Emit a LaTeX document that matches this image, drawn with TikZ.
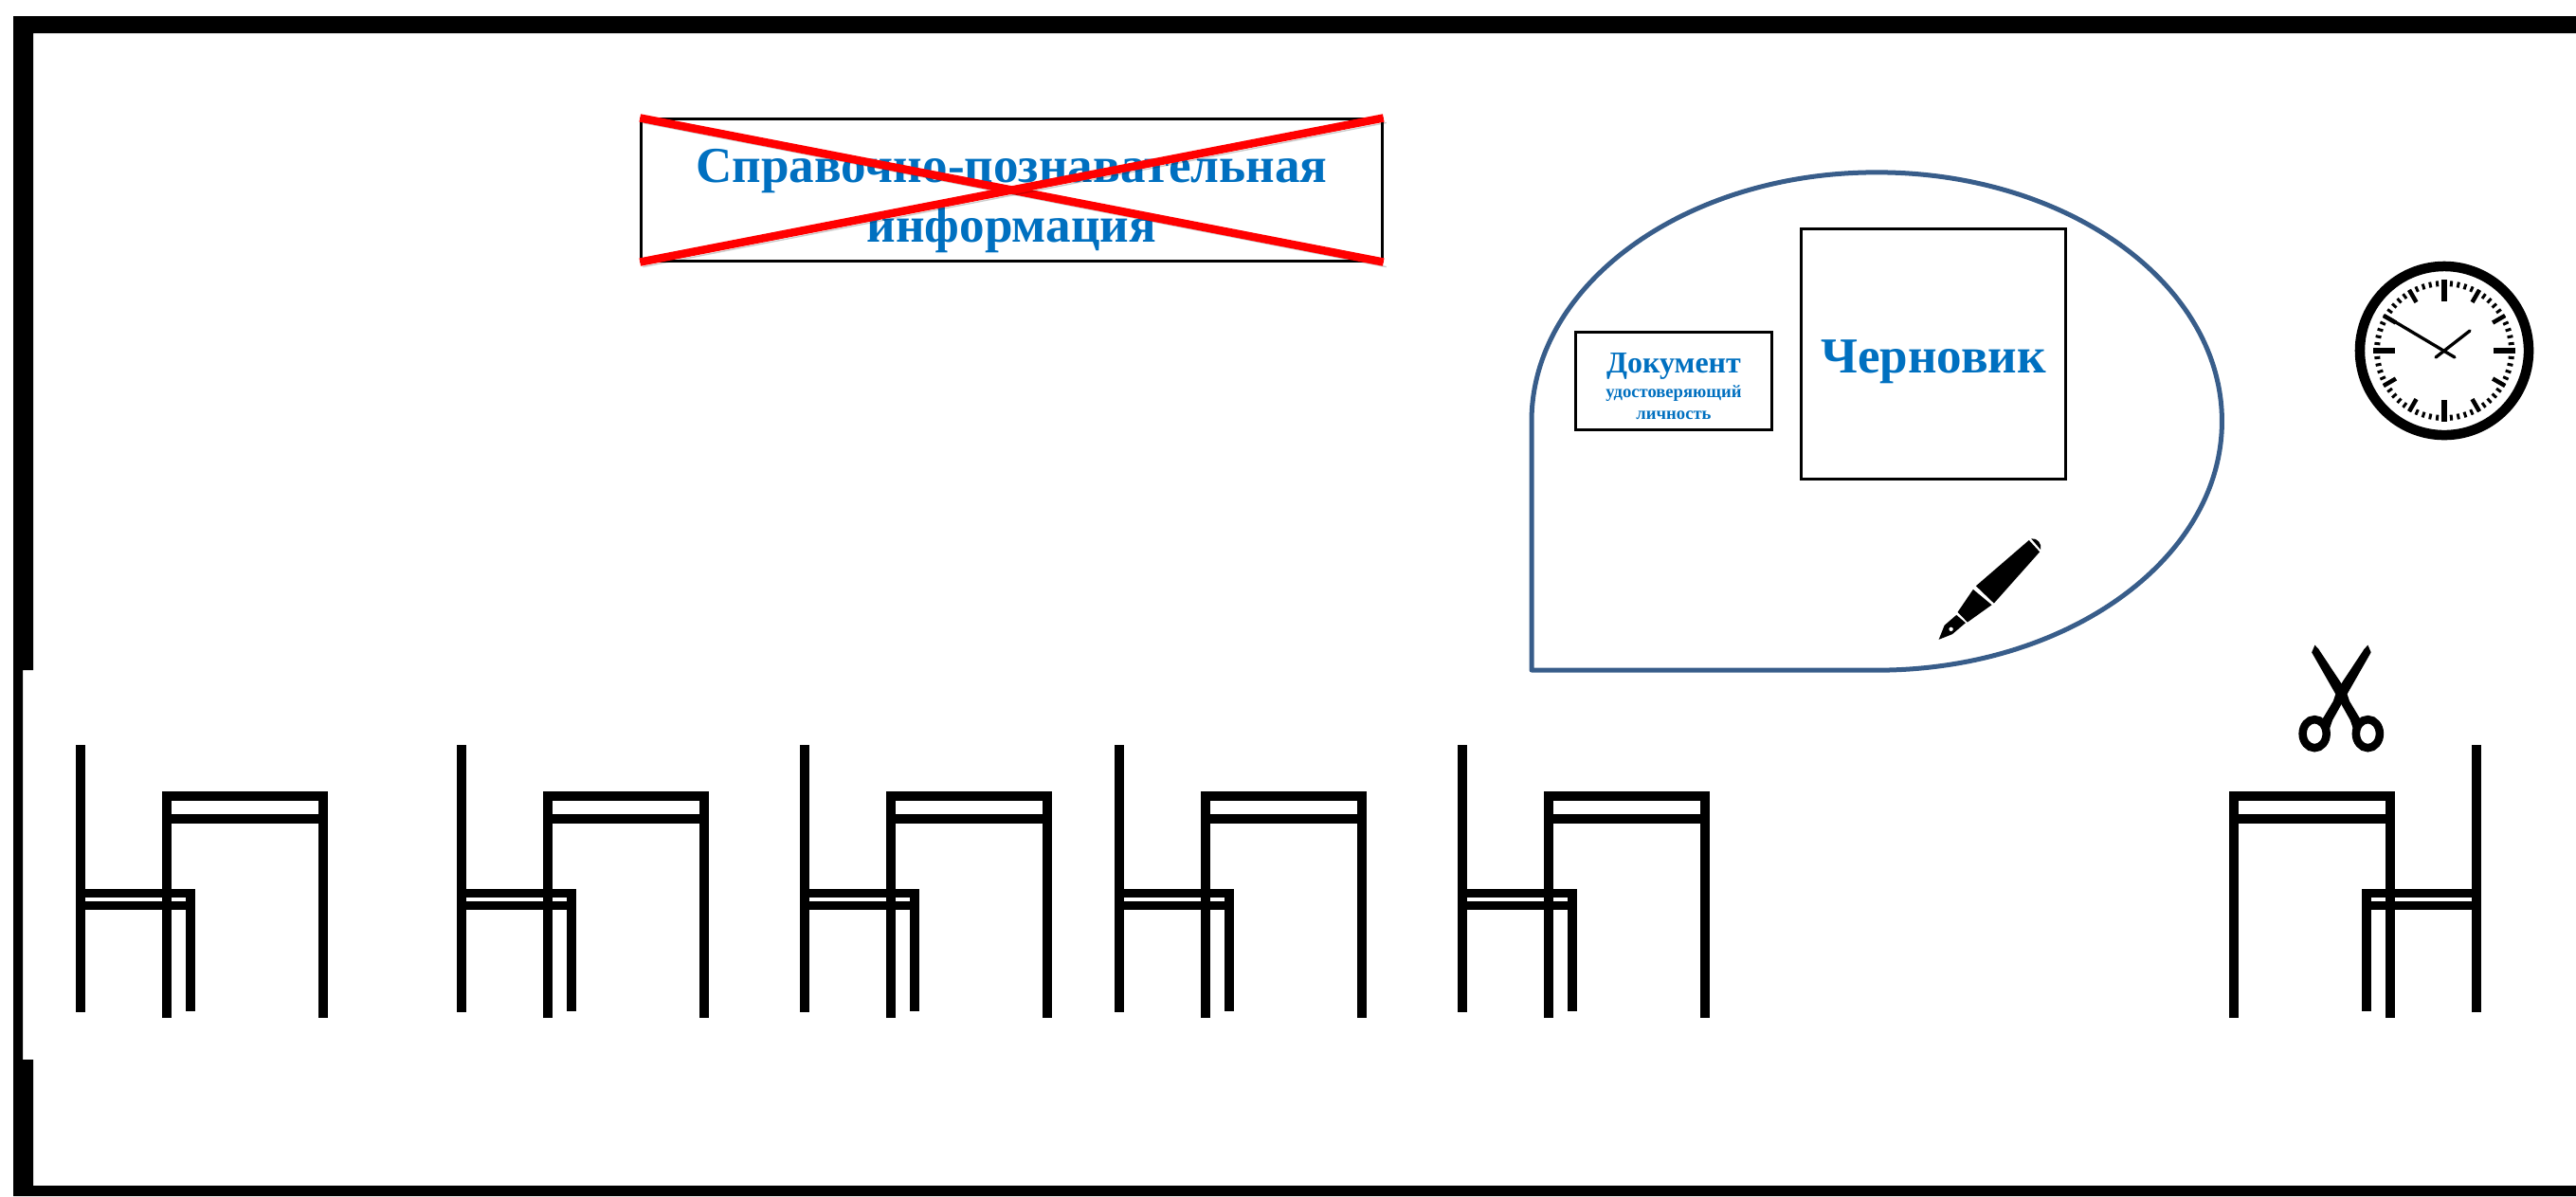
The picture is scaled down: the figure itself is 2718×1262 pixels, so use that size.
\documentclass[tikz,border=0pt]{standalone}
\usepackage{fontspec}
\setmainfont{Liberation Serif}
\usepackage{xcolor}
\definecolor{heading}{HTML}{0070C0}
\definecolor{bubble}{HTML}{385D8A}
\tikzset{
  wall/.style={fill=black},
  sheet/.style={draw=black, line width=0.3mm, fill=white, inner sep=0pt, align=center, text=heading, font=\bfseries},
  crossline/.style={draw=red, line width=0.85mm, preaction={draw=black, opacity=0.2, transform canvas={shift={(0.3mm,-0.5mm)}}}},
  bar/.style={line width=0.95mm, draw=black, line join=miter},
  deskset/.pic={
    \draw[bar] (85,786) -- (85,1068);
    \draw[bar] (85,942.5) -- (201,942.5) -- (201,1067);
    \draw[bar] (85,955.5) -- (198,955.5);
    \draw[bar] (176,1074) -- (176,840) -- (341,840) -- (341,1074);
    \draw[bar] (176,864) -- (341,864);
  }
}
\begin{document}
\begin{tikzpicture}[x=0.01cm,y=-0.01cm]
  \useasboundingbox (0,0) rectangle (2718,1262);
  % room walls
  \fill[wall] (14,17) -- (2718,17) -- (2718,35) -- (35,35) -- (35,707) -- (24,707) -- (24,1118)
    -- (35,1118) -- (35,1251) -- (2718,1251) -- (2718,1262) -- (14,1262) -- cycle;

  % crossed out information board
  \node[sheet, minimum width=7.81cm, minimum height=1.49cm, font=\fontsize{15.1}{18}\selectfont\bfseries] (info) at (1067.5,200.5) {\rule{0pt}{16.5pt}Справочно-познавательная\\информация};
  \draw[crossline] (info.north west) -- (info.south east);
  \draw[crossline] (info.south west) -- (info.north east);

  % desk of the examiner with its papers
  \draw[bubble, line width=0.5mm, line join=round] (1616,707) -- (1616,444.5)
    arc[start angle=180, end angle=-90, x radius=3.64cm, y radius=2.625cm] -- cycle;
  \node[sheet, minimum width=2.79cm, minimum height=2.63cm, font=\fontsize{15.1}{18}\selectfont\bfseries] (draft) at (2040,373.5) {\rule{0pt}{14.5pt}Черновик};
  \node[sheet, minimum width=2.06cm, minimum height=1.03cm, font=\fontsize{5.3}{6.5}\selectfont\bfseries] (idcard) at (1766,402) {\rule{0pt}{9pt}\fontsize{9.1}{6.5}\selectfont Документ\\[0.8pt]удостоверяющий\\личность};

  % pen
  \begin{scope}[shift={(2010,550)},x=0.00333cm,y=-0.00333cm]
    \fill[even odd rule] (107,375) -- (125,330) -- (163,297) -- (192,322) -- (150,358) -- cycle (146,342) circle[radius=7];
    \fill (167,288) -- (216,216) -- (275,265) -- (198,320) -- cycle;
    \fill (225,205) -- (393,60) -- (427,97) -- (282,260) -- cycle;
    \fill (400,55) .. controls (420,52) and (435,72) .. (430,90) -- cycle;
  \end{scope}

  % scissors
  \begin{scope}[shift={(2320,660)},x=0.00333cm,y=-0.00333cm]
    \fill (368,62) -- (358,85) -- (438,225) -- (480,300) -- (497,350) -- (520,310) -- (478,240) -- (466,205) -- (380,75) -- cycle;
    \fill (536,62) -- (546,85) -- (466,225) -- (424,300) -- (407,350) -- (384,310) -- (426,240) -- (438,205) -- (524,75) -- cycle;
    \draw[line width=0.85mm] (367,343) ellipse[x radius=0.125cm, y radius=0.15cm];
    \draw[line width=0.85mm] (536,343) ellipse[x radius=0.125cm, y radius=0.15cm];
  \end{scope}

  % clock
  \begin{scope}[shift={(2579,370)}]
    \draw[line width=1.05mm] (0,0) circle[radius=0.89cm];
    \foreach \a in {0,6,...,354} {
      \draw[line width=0.3mm] (\a:68) -- (\a:74);
    }
    \foreach \a in {30,60,120,150,210,240,300,330} {
      \draw[line width=0.45mm] (\a:59) -- (\a:74);
    }
    \foreach \a in {0,90,180,270} {
      \draw[line width=0.6mm] (\a:52) -- (\a:75);
    }
    \draw[line width=0.33mm, line cap=round] (-63,-37) -- (11,7);
    \draw[line width=0.33mm, line cap=round] (-9,7) -- (27,-21);
  \end{scope}

  % desks and chairs
  \foreach \shiftx in {0,402,764,1096,1458} {
    \pic at (\shiftx,0) {deskset};
  }
  \pic[xscale=-1] at (2698,0) {deskset};
\end{tikzpicture}
\end{document}
